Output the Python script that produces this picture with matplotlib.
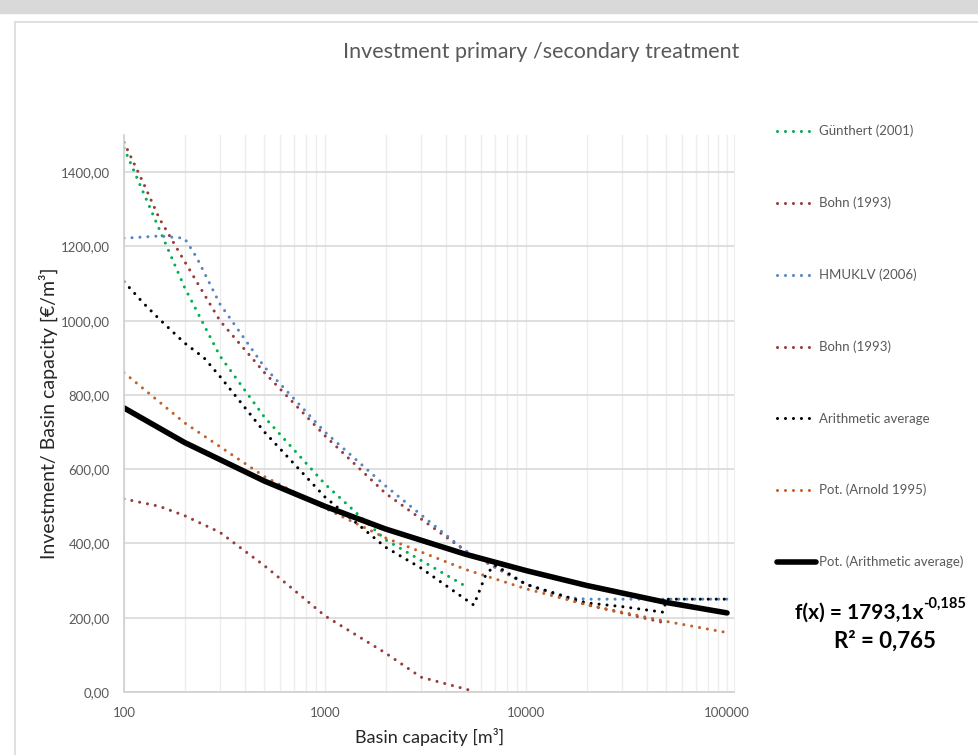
import numpy as np
import matplotlib.pyplot as plt
from matplotlib.patches import Rectangle
from matplotlib.ticker import FixedLocator, FuncFormatter, LogLocator, NullFormatter

plt.rcParams['font.family'] = ['Lato', 'DejaVu Sans']

# data
guenthert_x = [100, 200, 300, 500, 1000, 2000, 5000]
guenthert_y = [1465, 1090, 905, 740, 560, 410, 285]

bohn_a_x = [100, 125, 150, 200, 300, 500, 1000, 2000, 5000, 10000, 20000, 50000]
bohn_a_y = [1480, 1370, 1275, 1160, 1000, 860, 690, 535, 380, 290, 235, 185]

hmuklv_x = [100, 150, 200, 230, 300, 500, 1000, 2000, 5000, 10000, 15000, 20000, 50000, 100000]
hmuklv_y = [1222, 1228, 1222, 1170, 1045, 875, 700, 555, 380, 290, 256, 250, 250, 250]

bohn_b_x = [100, 150, 200, 300, 500, 700, 1000, 2000, 3000, 5500]
bohn_b_y = [520, 500, 475, 430, 340, 275, 205, 105, 40, 2]

avg_x = [100, 125, 150, 200, 250, 300, 500, 1000, 2000, 3000, 4500, 5500, 6300, 7000,
         10000, 20000, 30000, 48000, 50000, 100000]
avg_y = [1105, 1047, 1004, 940, 900, 850, 700, 525, 390, 334, 267, 234, 315, 342,
         290, 240, 230, 215, 250, 250]

trend_x = [100, 200, 500, 1000, 2000, 5000, 10000, 20000, 50000, 100000]
arnold_y = [860, 725, 580, 495, 415, 330, 278, 235, 190, 160]
avg_trend_y = [765, 672, 568, 500, 439, 371, 327, 287, 241, 213]

labels = ["Günthert (2001)", "Bohn (1993)", "HMUKLV (2006)", "Bohn (1993)",
          "Arithmetic average", "Pot. (Arnold 1995)", "Pot. (Arithmetic average)"]

W, H = 979, 755
fig = plt.figure(figsize=(W / 100, H / 100), dpi=100)
fig.patches.append(Rectangle((0, 1 - 13 / H), 1, 13 / H, transform=fig.transFigure,
                             color="#D9D9D9", zorder=0))
fig.patches.append(Rectangle((15 / W, -0.1), 1.1, (H - 22) / H + 0.1, transform=fig.transFigure,
                             fill=False, edgecolor="#D9D9D9", lw=1.2, zorder=0))

ax = fig.add_axes([124 / W, (H - 692) / H, (734 - 124) / W, (692 - 135) / H])
ax.set_xscale("log")
ax.set_xlim(100, 10 ** (5 + 7 / 201))
ax.set_ylim(0, 1500)

dot = (0, (0.01, 2.6))
kw = dict(lw=2.2, linestyle=dot, dash_capstyle="round")
l1, = ax.plot(guenthert_x, guenthert_y, color="#00B050", **kw)
l2, = ax.plot(bohn_a_x, bohn_a_y, color="#963C3A", **kw)
l3, = ax.plot(hmuklv_x, hmuklv_y, color="#5585C3", **kw)
l4, = ax.plot(bohn_b_x, bohn_b_y, color="#963C3A", **kw)
l5, = ax.plot(avg_x, avg_y, color="black", **kw)
l6, = ax.plot(trend_x, arnold_y, color="#C0622A", **kw)
l7, = ax.plot(trend_x, avg_trend_y, color="black", lw=4, solid_capstyle="round")

ax.yaxis.set_major_locator(FixedLocator(np.arange(0, 1401, 200)))
ax.yaxis.set_major_formatter(FuncFormatter(lambda v, p: f"{v:.2f}".replace(".", ",")))
ax.xaxis.set_major_locator(FixedLocator([100, 1000, 10000, 100000]))
ax.xaxis.set_major_formatter(FuncFormatter(lambda v, p: f"{int(v)}"))
ax.xaxis.set_minor_locator(LogLocator(base=10, subs=np.arange(2, 10)))
ax.xaxis.set_minor_formatter(NullFormatter())

ax.grid(True, axis="y", color="#D9D9D9", lw=1.2)
ax.grid(True, axis="x", which="both", color="#EDEDED", lw=1)
ax.set_axisbelow(True)
ax.tick_params(which="both", length=0, colors="#595959", labelsize=9.5)
ax.tick_params(axis="x", pad=11)
ax.tick_params(axis="y", pad=10)
ax.spines["top"].set_visible(False)
ax.spines["right"].set_color("#EDEDED")
ax.spines["left"].set_color("#D0D0D0")
ax.spines["bottom"].set_color("#D0D0D0")
ax.spines["left"].set_linewidth(1.2)
ax.spines["bottom"].set_linewidth(1.2)

fig.text(541 / W, 1 - 52 / H, "Investment primary /secondary treatment",
         ha="center", va="center", fontsize=15.5, color="#595959")
fig.text(48 / W, 1 - 413 / H, "Investment/ Basin capacity [€/m³]", rotation=90,
         ha="center", va="center", fontsize=14, color="#262626")
fig.text(430 / W, 1 - 737 / H, "Basin capacity [m³]",
         ha="center", va="center", fontsize=13, color="#262626")

fig.legend([l1, l2, l3, l4, l5, l6, l7], labels, loc="upper left",
           bbox_to_anchor=(765 / W, 1 - 113 / H), frameon=False, fontsize=9.5,
           labelcolor="#595959", handlelength=2.95, handletextpad=0.25,
           labelspacing=4.5)

eq = fig.text(795 / W, 1 - 613 / H, "f(x) = 1793,1x", fontsize=15, fontweight="bold",
              ha="left", va="center", color="black")
ax.annotate("-0,185", xy=(1, 0.6), xycoords=eq, fontsize=10.5, fontweight="bold",
            ha="left", va="bottom", annotation_clip=False)
fig.text(885 / W, 1 - 641 / H, "R² = 0,765", fontsize=16, fontweight="bold",
         ha="center", va="center", color="black")

fig.savefig("out.png", dpi=100)
